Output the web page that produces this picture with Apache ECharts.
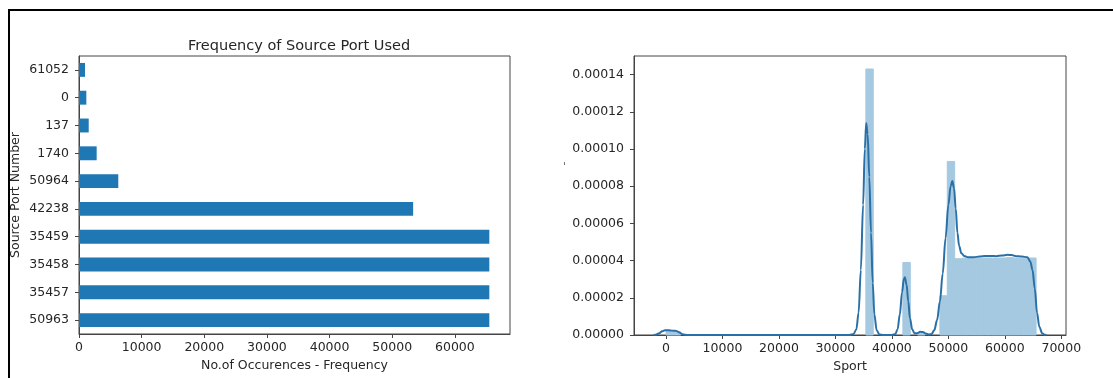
<!DOCTYPE html>
<html>
<head>
<meta charset="utf-8">
<script src="https://cdn.jsdelivr.net/npm/echarts@6/dist/echarts.min.js"></script>
<style>
html,body{margin:0;padding:0;background:#fff;}
#c{width:1113px;height:378px;}
</style>
</head>
<body>
<div id="c"></div>
<script>
// ---- Left chart: frequency of source port ----
const portCategories = ['61052', '0', '137', '1740', '50964', '42238', '35459', '35458', '35457', '50963'];
const portCounts = [960, 1170, 1550, 2820, 6270, 53340, 65500, 65500, 65500, 65500];
const leftXTicks = [0, 10000, 20000, 30000, 40000, 50000, 60000];

// ---- Right chart: distribution of Sport ----
const histLeft = [0, 1310.7, 35388.9, 41942.4, 44563.8, 48496.0, 49806.6, 51117.3, 52428.0, 53738.7, 55049.4, 56360.1, 57670.8, 58981.5, 60292.2, 61602.9, 62913.6, 64224.3];
const histRight = [1310.7, 2621.4, 36699.6, 43253.1, 45874.5, 49806.6, 51117.3, 52428.0, 53738.7, 55049.4, 56360.1, 57670.8, 58981.5, 60292.2, 61602.9, 62913.6, 64224.3, 65535.0];
const histHeight = [2.2e-6, 1.6e-6, 1.430e-4, 3.90e-5, 1.0e-6, 2.11e-5, 9.33e-5, 4.10e-5, 4.13e-5, 4.13e-5, 4.13e-5, 4.14e-5, 4.13e-5, 4.14e-5, 4.16e-5, 4.13e-5, 4.13e-5, 4.14e-5];

const kdeX = [-2200, -1800, -1200, -700, -200, 300, 800, 1300, 1800, 2300, 2800, 3400, 4200, 10000, 20000, 30000, 32500,
  33200, 33700, 34100, 34500, 34900, 35200, 35450, 35700, 36000, 36300, 36600, 36900, 37300, 37800, 38500,
  40000, 40600, 41000, 41400, 41800, 42100, 42300, 42600, 42900, 43200, 43600, 44000, 44500, 45000, 45500, 46000, 46500,
  47000, 47500, 48000, 48500, 49000, 49500, 50000, 50400, 50700, 51000, 51300, 51600, 51900, 52300, 52800,
  53500, 54500, 55500, 56500, 57500, 58500, 59500, 60500, 61200, 62000, 63000, 64000, 64500, 64900, 65300, 65700, 66100, 66600, 67000, 67350];
const kdeY = [0, 2e-7, 1.0e-6, 2.0e-6, 2.5e-6, 2.6e-6, 2.4e-6, 2.3e-6, 2.2e-6, 1.5e-6, 6e-7, 1e-7, 0, 0, 0, 0, 0,
  5e-7, 3e-6, 1.2e-5, 3.5e-5, 7.0e-5, 1.0e-4, 1.14e-4, 1.08e-4, 8.5e-5, 5.5e-5, 2.8e-5, 1.1e-5, 2.5e-6, 3e-7, 0,
  0, 5e-7, 3e-6, 1.1e-5, 2.3e-5, 3.0e-5, 3.1e-5, 2.7e-5, 1.8e-5, 9e-6, 3e-6, 1e-6, 1e-6, 1.7e-6, 1.6e-6, 8e-7, 3e-7,
  5e-7, 2.5e-6, 8e-6, 1.8e-5, 3.3e-5, 5.2e-5, 7.0e-5, 8.0e-5, 8.28e-5, 7.9e-5, 6.8e-5, 5.5e-5, 4.8e-5, 4.4e-5, 4.25e-5,
  4.18e-5, 4.18e-5, 4.22e-5, 4.25e-5, 4.25e-5, 4.24e-5, 4.27e-5, 4.31e-5, 4.30e-5, 4.24e-5, 4.22e-5, 4.18e-5, 3.95e-5, 3.5e-5, 2.5e-5, 1.2e-5, 4.5e-6, 1e-6, 2e-7, 0];
const rightXTicks = [0, 10000, 20000, 30000, 40000, 50000, 60000, 70000];
const rightYTicks = [0, 0.00002, 0.00004, 0.00006, 0.00008, 0.00010, 0.00012, 0.00014];

const FONT = 'DejaVu Sans';
const TXT = '#262626';
const SPINE = '#444';
const HIST = '#a5c9e1';

const histData = histLeft.map((l, i) => [l, histRight[i], histHeight[i]]);
const kdeData = kdeX.map((x, i) => [x, kdeY[i]]);
const plain = v => String(v);

const chart = echarts.init(document.getElementById('c'), null, {renderer: 'canvas'});
chart.setOption({
  animation: false,
  backgroundColor: '#fff',
  textStyle: {fontFamily: FONT, color: TXT},
  title: {
    text: 'Frequency of Source Port Used',
    left: 294, top: 34, textAlign: 'center',
    textStyle: {fontFamily: FONT, fontSize: 14.5, fontWeight: 'normal', color: TXT}
  },
  graphic: [
    {type: 'rect', shape: {x: 9, y: 10, width: 1200, height: 500}, style: {fill: null, stroke: '#000', lineWidth: 2}, silent: true},
    {type: 'text', x: 563, y: 162, style: {text: "'", font: '10px DejaVu Sans', fill: '#555'}, silent: true}
  ],
  grid: [
    {left: 79, top: 56, width: 431, height: 278, show: true, borderColor: SPINE, borderWidth: 1, backgroundColor: 'transparent'},
    {left: 634, top: 56, width: 432, height: 279, show: true, borderColor: SPINE, borderWidth: 1, backgroundColor: 'transparent'}
  ],
  xAxis: [
    {
      type: 'value', gridIndex: 0, min: 0, max: 68800,
      name: 'No.of Occurences - Frequency', nameLocation: 'middle', nameGap: 24,
      nameTextStyle: {fontFamily: FONT, fontSize: 12.5, color: TXT},
      axisLine: {show: true, onZero: false, lineStyle: {color: SPINE}},
      axisTick: {show: true, length: 4, lineStyle: {color: SPINE}, customValues: leftXTicks},
      axisLabel: {fontFamily: FONT, fontSize: 12.5, color: TXT, margin: 7, customValues: leftXTicks, formatter: plain},
      splitLine: {show: false}
    },
    {
      type: 'value', gridIndex: 1, min: -5670, max: 70830,
      name: 'Sport', nameLocation: 'middle', nameGap: 24,
      nameTextStyle: {fontFamily: FONT, fontSize: 12.5, color: TXT},
      axisLine: {show: true, onZero: false, lineStyle: {color: SPINE}},
      axisTick: {show: true, length: 4, lineStyle: {color: SPINE}, customValues: rightXTicks},
      axisLabel: {fontFamily: FONT, fontSize: 12.5, color: TXT, margin: 7, customValues: rightXTicks, formatter: plain},
      splitLine: {show: false}
    }
  ],
  yAxis: [
    {
      type: 'category', gridIndex: 0, data: portCategories, inverse: true,
      name: 'Source Port Number', nameLocation: 'middle', nameGap: 57, nameRotate: 90,
      nameTextStyle: {fontFamily: FONT, fontSize: 12.5, color: TXT},
      axisLine: {show: true, onZero: false, lineStyle: {color: SPINE}},
      axisTick: {show: true, length: 4, alignWithLabel: true, lineStyle: {color: SPINE}},
      axisLabel: {fontFamily: FONT, fontSize: 12.5, color: TXT, margin: 10},
      splitLine: {show: false}
    },
    {
      type: 'value', gridIndex: 1, min: 0, max: 0.00015,
      axisLine: {show: true, onZero: false, lineStyle: {color: SPINE}},
      axisTick: {show: true, length: 4, lineStyle: {color: SPINE}, customValues: rightYTicks},
      axisLabel: {fontFamily: FONT, fontSize: 12.5, color: TXT, margin: 10, customValues: rightYTicks,
        formatter: v => v.toFixed(5)},
      splitLine: {show: false}
    }
  ],
  series: [
    {
      type: 'bar', xAxisIndex: 0, yAxisIndex: 0, data: portCounts, barWidth: '50%',
      itemStyle: {color: '#1f77b4'}, silent: true
    },
    {
      type: 'custom', xAxisIndex: 1, yAxisIndex: 1, data: histData, silent: true,
      encode: {x: [0, 1], y: 2},
      renderItem: function (params, api) {
        const p0 = api.coord([api.value(0), api.value(2)]);
        const p1 = api.coord([api.value(1), 0]);
        return {type: 'rect', shape: {x: p0[0], y: p0[1], width: p1[0] - p0[0], height: p1[1] - p0[1]},
          style: {fill: HIST, stroke: HIST, lineWidth: 1}};
      }
    },
    {
      type: 'line', xAxisIndex: 1, yAxisIndex: 1, data: kdeData, showSymbol: false,
      smooth: 0.35, smoothMonotone: 'x', silent: true,
      lineStyle: {color: '#2a70a6', width: 2}
    }
  ]
});
</script>
</body>
</html>
